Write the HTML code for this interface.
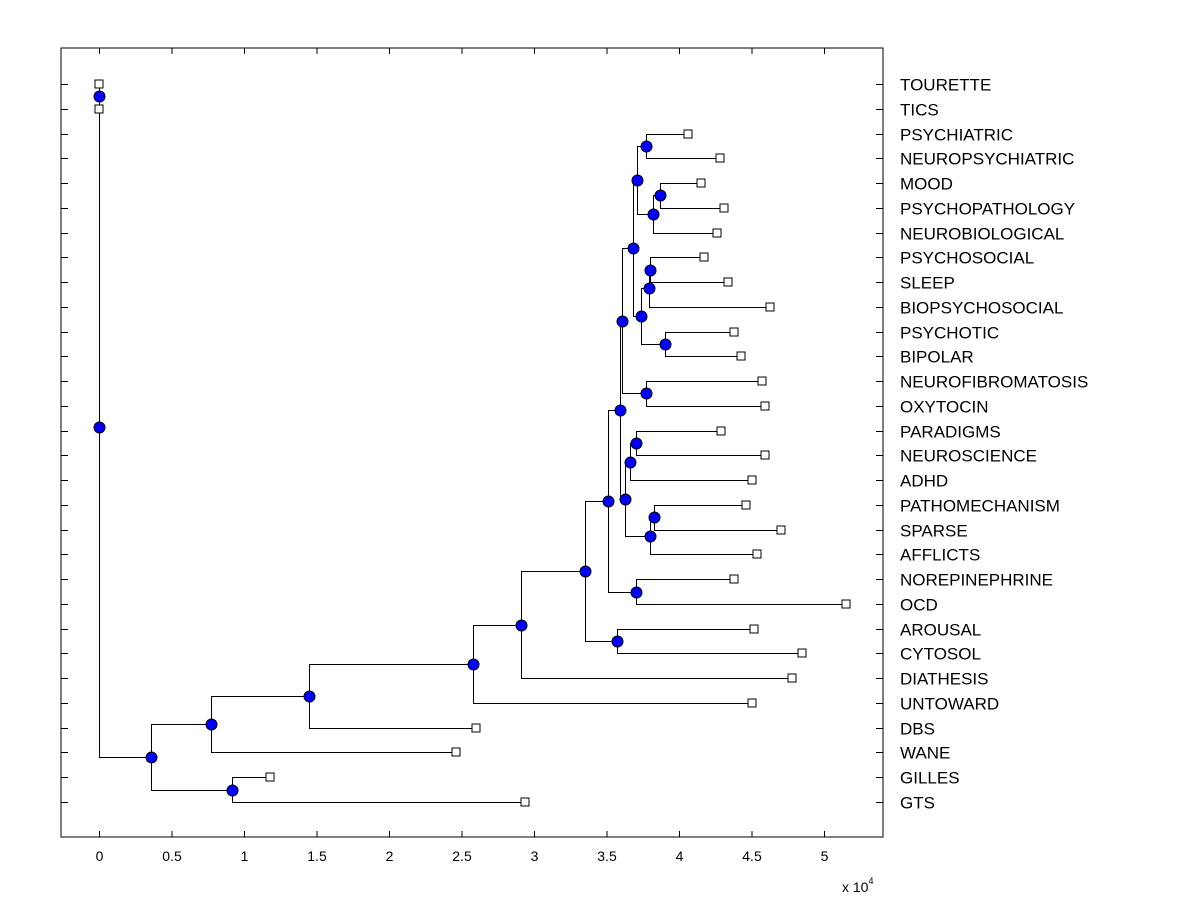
<!DOCTYPE html>
<html><head><meta charset="utf-8"><style>
body{margin:0;background:#fff;}
svg{display:block;font-family:"Liberation Sans",Arial,sans-serif;}
</style></head><body>
<svg id="chart" width="1200" height="900" xmlns="http://www.w3.org/2000/svg"></svg>
<script>
const leafLabels=["TOURETTE","TICS","PSYCHIATRIC","NEUROPSYCHIATRIC","MOOD","PSYCHOPATHOLOGY","NEUROBIOLOGICAL","PSYCHOSOCIAL","SLEEP","BIOPSYCHOSOCIAL","PSYCHOTIC","BIPOLAR","NEUROFIBROMATOSIS","OXYTOCIN","PARADIGMS","NEUROSCIENCE","ADHD","PATHOMECHANISM","SPARSE","AFFLICTS","NOREPINEPHRINE","OCD","AROUSAL","CYTOSOL","DIATHESIS","UNTOWARD","DBS","WANE","GILLES","GTS"];
const leafValues=[0,0,4.06,4.28,4.15,4.31,4.26,4.17,4.34,4.63,4.38,4.43,4.57,4.59,4.29,4.59,4.50,4.46,4.70,4.54,4.38,5.15,4.52,4.85,4.78,4.50,2.60,2.46,1.18,2.94];
// internal nodes (ids start at 30)
const nodeLeft =[0,2,4,32,31,7,35,10,36,34,12,39,14,42,17,44,43,41,20,47,22,49,51,52,53,54,28,55,30];
const nodeRight=[1,3,5,6,33,8,9,11,37,38,13,40,15,16,18,19,45,46,21,48,23,50,24,25,26,27,29,56,57];
const nodeValues=[0,3.77,3.87,3.82,3.71,3.80,3.79,3.90,3.74,3.68,3.77,3.61,3.70,3.66,3.83,3.80,3.63,3.59,3.70,3.51,3.57,3.35,2.91,2.58,1.45,0.77,0.92,0.36,0];
const xTicks=[0,0.5,1,1.5,2,2.5,3,3.5,4,4.5,5];

const svg=document.getElementById('chart');
const NS='http://www.w3.org/2000/svg';
const L=61,R=883,T=48,B=837;
const xs=v=>99+145*v;
const ys=i=>84+i*(802-84)/29;
function mk(tag,attrs,parent){const e=document.createElementNS(NS,tag);for(const k in attrs)e.setAttribute(k,attrs[k]);(parent||svg).appendChild(e);return e;}

const frame=mk('rect',{x:L,y:T,width:R-L,height:B-T,fill:'none',stroke:'#000','stroke-width':1});



xTicks.forEach(v=>{
  const x=xs(v)+0.5;
  const t1=mk('line',{x1:x,x2:x,y1:B,y2:B-6,stroke:'#000'});
  
  
  const t2=mk('line',{x1:x,x2:x,y1:T,y2:T+6,stroke:'#000'});
  
  
  const tx=mk('text',{x:x,y:861,'font-size':14,'text-anchor':'middle',fill:'#000'});
  tx.textContent=String(v);
  
  
});
const ex=mk('text',{x:842,y:892,'font-size':14,fill:'#000'});
ex.innerHTML='x 10<tspan dy="-8" font-size="9">4</tspan>';



leafLabels.forEach((lab,i)=>{
  const y=Math.round(ys(i))+0.5;
  const a=mk('line',{x1:L,x2:L+7,y1:y,y2:y,stroke:'#000'});
  
  
  const b=mk('line',{x1:R,x2:R-7,y1:y,y2:y,stroke:'#000'});
  
  
  const t=mk('text',{x:900,y:y+6,'font-size':17,fill:'#000'});
  t.textContent=lab;
  
  
});

const N=leafLabels.length;
const posX=[],posY=[];
leafValues.forEach((v,i)=>{posX[i]=xs(v);posY[i]=ys(i);});
nodeValues.forEach((v,k)=>{const id=N+k;posX[id]=xs(v);posY[id]=(posY[nodeLeft[k]]+posY[nodeRight[k]])/2;});

const g=mk('g',{stroke:'#000','stroke-width':1,fill:'none'});


nodeValues.forEach((v,k)=>{
  const id=N+k;
  const x=Math.round(posX[id])+0.5;
  [nodeLeft[k],nodeRight[k]].forEach(c=>{
    const cy=Math.round(posY[c])+0.5;
    const p=mk('polyline',{points:`${x},${Math.round(posY[id])+0.5} ${x},${cy} ${Math.round(posX[c])+0.5},${cy}`},g);
    
    
  });
});
leafValues.forEach((v,i)=>{
  const s=mk('rect',{x:Math.round(posX[i])-4,y:Math.round(posY[i])-4,width:8,height:8,fill:'#fff',stroke:'#000'});
  
  
});
nodeValues.forEach((v,k)=>{
  const id=N+k;
  const c=mk('circle',{cx:Math.round(posX[id])+0.5,cy:Math.round(posY[id])+0.5,r:5.5,fill:'#0000ff',stroke:'#000'});
  
  
});
</script>
</body></html>
